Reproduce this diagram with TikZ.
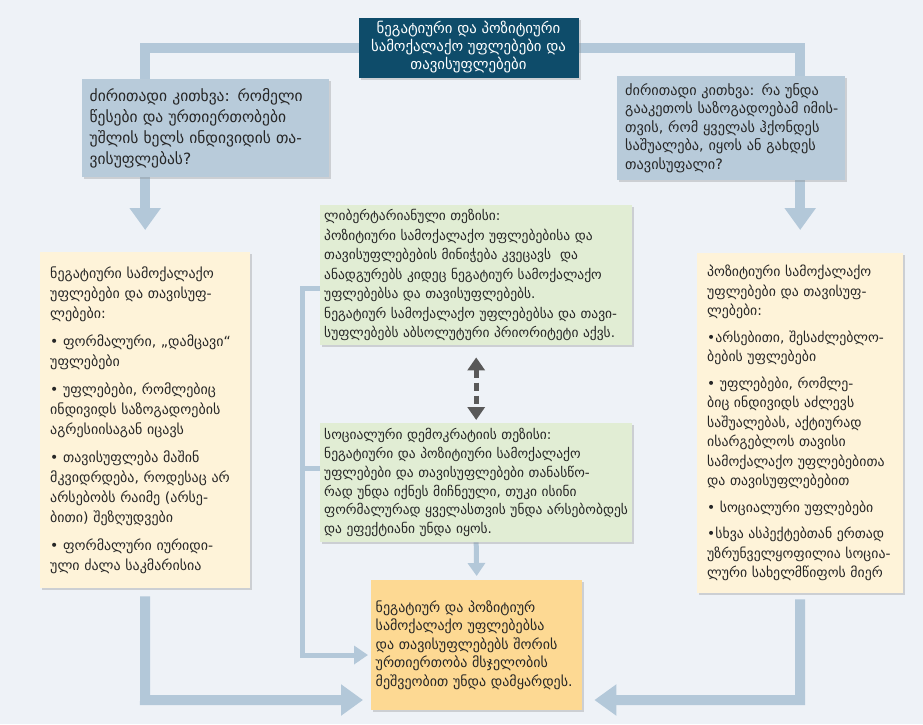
\documentclass[tikz,border=0pt]{standalone}
\usepackage{fontspec}
\setmainfont{DejaVu Sans}
\usetikzlibrary{arrows.meta,shadows,calc}
\pgfdeclarelayer{backdrop}
\pgfdeclarelayer{background}
\pgfsetlayers{backdrop,background,main}
\definecolor{bgc}{HTML}{EEF2F7}
\definecolor{tealc}{HTML}{0E4C6A}
\definecolor{qblue}{HTML}{B8CBDA}
\definecolor{cream}{HTML}{FEF3D9}
\definecolor{greenc}{HTML}{E1EDD4}
\definecolor{orangec}{HTML}{FDD993}
\definecolor{linec}{HTML}{B3C8D9}
\definecolor{dashc}{HTML}{595959}
\newcommand\fs[2]{\fontsize{#1}{#2}\selectfont}
\newcommand\jl[1]{\makebox[\linewidth][s]{#1}}
\begin{document}
\begin{tikzpicture}[x=1pt,y=-1pt,
  box/.style={rectangle, anchor=north west, inner ysep=0pt, align=left, text=black!85,
    drop shadow={shadow xshift=2pt,shadow yshift=-2pt,opacity=0.3}},
  conn/.style={line width=10pt, draw=linec},
  brk/.style={line width=5pt, draw=linec},
  bigtip/.style={-{Triangle[length=22pt,width=30pt]}},
  midtip/.style={-{Triangle[length=14pt,width=18pt]}},
]
\begin{pgfonlayer}{backdrop}
\fill[bgc] (0,0) rectangle (923,724);
\end{pgfonlayer}
\useasboundingbox (0,0) rectangle (923,724);

% top box
\node[rectangle, fill=tealc, text=white, align=center, minimum width=220pt, minimum height=60pt,
  inner sep=0pt, font=\fs{14.8}{18},
  drop shadow={shadow xshift=2pt,shadow yshift=-2pt,opacity=0.3}] (top) at (468.5,47.5)
  {ნეგატიური და პოზიტიური\\ სამოქალაქო უფლებები და\\ თავისუფლებები};

% question boxes
\node[box, fill=qblue, minimum width=247pt, minimum height=98pt, text width=232pt,
  inner xsep=7.5pt, font=\fs{15.5}{21}] (lq) at (82,79)
  {\jl{ძირითადი კითხვა: რომელი}\\ \jl{წესები და ურთიერთობები}\\ \jl{უშლის ხელს ინდივიდის თა-}\\ ვისუფლებას?};
\node[box, fill=qblue, minimum width=228pt, minimum height=104pt, text width=212pt,
  inner xsep=8pt, font=\fs{14.3}{18.5}] (rq) at (617,76)
  {\jl{ძირითადი კითხვა: რა უნდა}\\ \jl{გააკეთოს საზოგადოებამ იმის-}\\ \jl{თვის, რომ ყველას ჰქონდეს}\\ \jl{საშუალება, იყოს ან გახდეს}\\ თავისუფალი?};

% yellow boxes
\node[box, fill=cream, minimum width=210pt, minimum height=336pt, text width=190pt,
  inner xsep=10pt, font=\fs{14}{20}] (ly) at (40,252)
  {ნეგატიური სამოქალაქო\\ უფლებები და თავისუფ-\\ ლებები:\\[8pt]
   • ფორმალური, „დამცავი“\\ უფლებები\\[8pt]
   • უფლებები, რომლებიც\\ ინდივიდს საზოგადოების\\ აგრესიისაგან იცავს\\[8pt]
   • თავისუფლება მაშინ\\ მკვიდრდება, როდესაც არ\\ არსებობს რაიმე (არსე-\\ ბითი) შეზღუდვები\\[8pt]
   • ფორმალური იურიდი-\\ ული ძალა საკმარისია};
\node[box, fill=cream, minimum width=206pt, minimum height=340pt, text width=186pt,
  inner xsep=10pt, font=\fs{13.8}{19.5}] (ry) at (697,253)
  {პოზიტიური სამოქალაქო\\ უფლებები და თავისუფ-\\ ლებები:\\[7pt]
   •არსებითი, შესაძლებლო-\\ ბების უფლებები\\[7pt]
   • უფლებები, რომლე-\\ ბიც ინდივიდს აძლევს\\ საშუალებას, აქტიურად\\ ისარგებლოს თავისი\\ სამოქალაქო უფლებებითა\\ და თავისუფლებებით\\[7pt]
   • სოციალური უფლებები\\[7pt]
   •სხვა ასპექტებთან ერთად\\ უზრუნველყოფილია სოცია-\\ ლური სახელმწიფოს მიერ};

% green boxes
\node[box, fill=greenc, minimum width=312pt, minimum height=140pt, text width=304pt,
  inner xsep=4pt, font=\fs{13.5}{19.5}] (gb1) at (320,205)
  {ლიბერტარიანული თეზისი:\\ პოზიტიური სამოქალაქო უფლებებისა და\\ თავისუფლებების მინიჭება კვეცავს \ და\\ ანადგურებს კიდეც ნეგატიურ სამოქალაქო\\ უფლებებსა და თავისუფლებებს.\\ ნეგატიურ სამოქალაქო უფლებებსა და თავი-\\ სუფლებებს აბსოლუტური პრიორიტეტი აქვს.};
\node[box, fill=greenc, minimum width=312pt, minimum height=119pt, text width=304pt,
  inner xsep=4pt, font=\fs{13.5}{18.8}] (gb2) at (320,423)
  {სოციალური დემოკრატიის თეზისი:\\ ნეგატიური და პოზიტიური სამოქალაქო\\ უფლებები და თავისუფლებები თანასწო-\\ რად უნდა იქნეს მიჩნეული, თუკი ისინი\\ \mbox{ფორმალურად ყველასთვის უნდა არსებობდეს}\\ და ეფექტიანი უნდა იყოს.};

% orange box
\node[box, fill=orangec, minimum width=211pt, minimum height=130pt, text width=202pt,
  inner xsep=4.5pt, font=\fs{14}{18.5}] (ob) at (371,580)
  {ნეგატიურ და პოზიტიურ\\ სამოქალაქო უფლებებსა\\ და თავისუფლებებს შორის\\ ურთიერთობა მსჯელობის\\ მეშვეობით უნდა დამყარდეს.};

\coordinate (b1) at (302,288);
\coordinate (b2) at (302,468);
\coordinate (b3) at (302,655);
\coordinate (lb) at (145,700);
\coordinate (rb) at (800,700);

\begin{pgfonlayer}{background}
\draw[conn, bigtip, shorten >=22pt] (top.center) -| (ly.north);
\draw[conn, bigtip, shorten >=23pt] (top.center) -| (ry.north);
\draw[conn, bigtip, shorten <=8pt, shorten >=8pt] (ly.south) -- (lb) -- (lb -| ob.west);
\draw[conn, bigtip, shorten <=6pt, shorten >=12pt] (ry.south) -- (rb) -- (rb -| ob.east);
\draw[brk, midtip, shorten >=3pt] (b1 -| gb1.west) -- (b1) -- (b3) -- (b3 -| ob.west);
\draw[brk] (b2) -- (b2 -| gb2.west);
\draw[brk, -{Triangle[length=13pt,width=17pt]}, shorten >=4pt] (gb2.south) -- (ob.north);
\end{pgfonlayer}
\draw[line width=5pt, draw=dashc, dash pattern=on 8pt off 5pt,
  {Triangle[length=13pt,width=17pt]}-{Triangle[length=13pt,width=17pt]},
  shorten <=12pt, shorten >=3pt] (gb1.south) -- (gb2.north);
\end{tikzpicture}
\end{document}
